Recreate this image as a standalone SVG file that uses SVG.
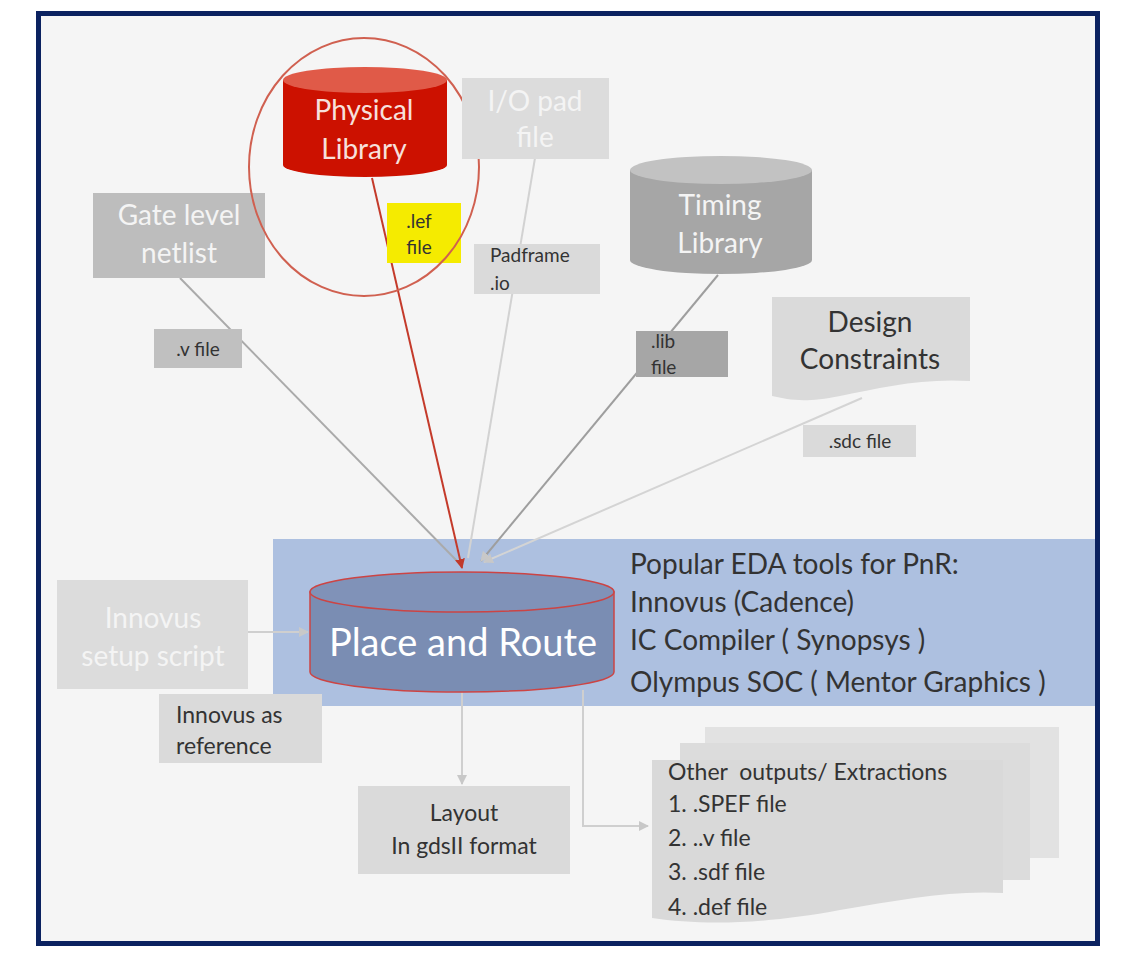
<svg xmlns="http://www.w3.org/2000/svg" width="1130" height="956" viewBox="0 0 1130 956">
<style>
text{font-family:Lato,"Liberation Sans",sans-serif}
.big{font-size:28px}
.sm{font-size:19px;fill:#333}
.md{font-size:23px;fill:#333}
.lt{fill:#f4f4f4}
.dk{fill:#333}
.c{text-anchor:middle}
.conn{fill:none;stroke-width:2}
</style>
<defs>
<marker id="ag" viewBox="0 0 10 10" refX="9" refY="5" markerWidth="5" markerHeight="5" orient="auto"><path d="M0,0 L10,5 L0,10 Z" fill="#c8c8c8"/></marker>
<marker id="ar" viewBox="0 0 10 10" refX="9" refY="5" markerWidth="5" markerHeight="5" orient="auto"><path d="M0,0 L10,5 L0,10 Z" fill="#c0392b"/></marker>
</defs>
<rect x="0" y="0" width="1130" height="956" fill="#ffffff"/>
<rect x="38.5" y="13.5" width="1059" height="930" fill="#f5f5f5" stroke="#0b2260" stroke-width="5"/>

<g id="pnr-band">
<rect x="273" y="539" width="822" height="167" fill="#adc0e0"/>
</g>

<g id="connectors">
<line class="conn" x1="180" y1="278" x2="458" y2="562" stroke="#aaaaaa"/>
<line class="conn" x1="535" y1="158" x2="468" y2="558" stroke="#d2d2d2"/>
<line class="conn" x1="718" y1="275" x2="481" y2="561" stroke="#9e9e9e" marker-end="url(#ag)"/>
<line class="conn" x1="862" y1="398" x2="484" y2="562" stroke="#d4d4d4" marker-end="url(#ag)"/>
<line class="conn" x1="372" y1="178" x2="462" y2="568" stroke="#c43a2a" stroke-width="2.5" marker-end="url(#ar)"/>
<line class="conn" x1="248" y1="632" x2="308" y2="632" stroke="#cfcfcf" marker-end="url(#ag)"/>
<line class="conn" x1="462" y1="692" x2="462" y2="784" stroke="#cfcfcf" marker-end="url(#ag)"/>
<polyline class="conn" points="583,690 583,826 648,826" stroke="#cfcfcf" marker-end="url(#ag)"/>
</g>

<g id="gate-netlist">
<rect x="93" y="193" width="172" height="85" fill="#bdbdbd"/>
<text class="big lt c" x="179" y="225">Gate level</text>
<text class="big lt c" x="179" y="263">netlist</text>
</g>
<g id="v-file">
<rect x="154" y="329" width="88" height="39" fill="#c0c0c0"/>
<text class="sm c" x="198" y="356">.v file</text>
</g>

<g id="physical-library">
<path d="M283,80 V165 A82,12 0 0 0 447,165 V80 Z" fill="#cc1100"/>
<ellipse cx="365" cy="80" rx="82" ry="13" fill="#e05a48"/>
<text class="big c" x="364" y="120" fill="#f7e0dc">Physical</text>
<text class="big c" x="364" y="159" fill="#f7e0dc">Library</text>
</g>
<g id="lef-file">
<rect x="387" y="203" width="74" height="60" fill="#f5eb00"/>
<text class="sm c" x="419" y="228">.lef</text>
<text class="sm c" x="419" y="254">file</text>
</g>
<g id="highlight">
<ellipse cx="364" cy="167" rx="115" ry="129" fill="none" stroke="#d06050" stroke-width="2"/>
</g>

<g id="io-pad">
<rect x="462" y="78" width="147" height="81" fill="#dcdcdc"/>
<text class="big lt c" x="535" y="111">I/O pad</text>
<text class="big lt c" x="535" y="147">file</text>
</g>
<g id="padframe">
<rect x="474" y="244" width="126" height="50" fill="#dadada"/>
<text class="sm" x="490" y="262">Padframe</text>
<text class="sm" x="490" y="290">.io</text>
</g>

<g id="timing-library">
<path d="M630,170 V260 A91,14 0 0 0 812,260 V170 Z" fill="#a6a6a6"/>
<ellipse cx="721" cy="170" rx="91" ry="14" fill="#c2c2c2"/>
<text class="big lt c" x="720" y="215">Timing</text>
<text class="big lt c" x="720" y="253">Library</text>
</g>
<g id="lib-file">
<rect x="636" y="331" width="92" height="46" fill="#a6a6a6"/>
<text class="sm" x="651" y="348">.lib</text>
<text class="sm" x="651" y="374">file</text>
</g>

<g id="design-constraints">
<path d="M772,297 H970 V381 C920,378 880,388 840,396 C805,403 790,400 772,396 Z" fill="#dadada"/>
<text class="big dk c" x="870" y="332">Design</text>
<text class="big dk c" x="870" y="369">Constraints</text>
</g>
<g id="sdc-file">
<rect x="803" y="425" width="113" height="32" fill="#dadada"/>
<text class="sm c" x="860" y="448">.sdc file</text>
</g>

<g id="place-route">
<path d="M310,592 V672 A152,20 0 0 0 614,672 V592 Z" fill="#7a8db3" stroke="#cc4444" stroke-width="1.5"/>
<ellipse cx="462" cy="592" rx="152" ry="20" fill="#8092b8" stroke="#cc4444" stroke-width="1.5"/>
<text class="c" x="463" y="656" font-size="38" fill="#ffffff">Place and Route</text>
</g>

<g id="eda-tools">
<text class="big dk" x="630" y="574">Popular EDA tools for PnR:</text>
<text class="big dk" x="630" y="612">Innovus (Cadence)</text>
<text class="big dk" x="630" y="650">IC Compiler ( Synopsys )</text>
<text class="big dk" x="630" y="692">Olympus SOC ( Mentor Graphics )</text>
</g>

<g id="innovus-setup">
<rect x="57" y="580" width="191" height="109" fill="#dcdcdc"/>
<text class="big lt c" x="153" y="628">Innovus</text>
<text class="big lt c" x="153" y="666">setup script</text>
</g>
<g id="innovus-ref">
<rect x="159" y="694" width="163" height="69" fill="#dadada"/>
<text class="md" x="176" y="723">Innovus as</text>
<text class="md" x="176" y="754">reference</text>
</g>

<g id="layout">
<rect x="358" y="786" width="212" height="88" fill="#dadada"/>
<text class="md c" x="464" y="821">Layout</text>
<text class="md c" x="464" y="854">In gdsII format</text>
</g>

<g id="other-outputs">
<rect x="705" y="727" width="354" height="131" fill="#e2e2e2"/>
<rect x="680" y="743" width="350" height="137" fill="#dcdcdc"/>
<path d="M652,760 H1003 V893 C950,890 900,900 840,910 C760,925 700,925 652,918 Z" fill="#d9d9d9"/>
<text class="md" x="668" y="780">Other&#160; outputs/ Extractions</text>
<text class="md" x="668" y="812">1. .SPEF file</text>
<text class="md" x="668" y="846">2. ..v file</text>
<text class="md" x="668" y="880">3. .sdf file</text>
<text class="md" x="668" y="915">4. .def file</text>
</g>
</svg>
